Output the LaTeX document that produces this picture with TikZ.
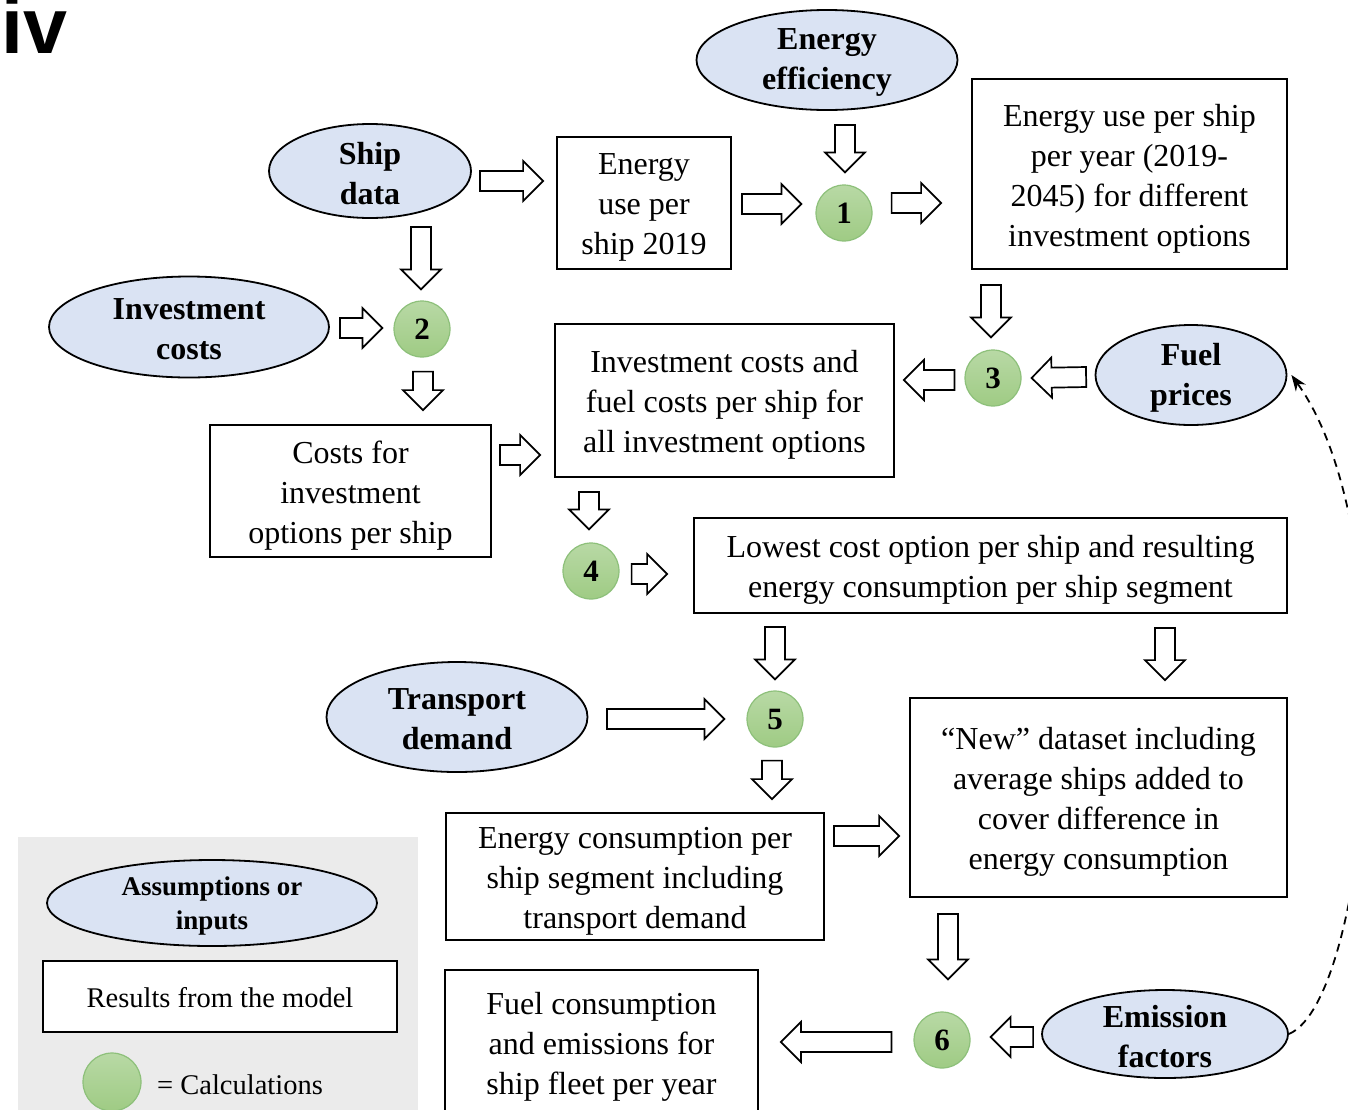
\documentclass[tikz,border=0pt]{standalone}
\usepackage{fontspec}
\setmainfont{Liberation Serif}
\newfontfamily\ivfont{Liberation Sans}
\usetikzlibrary{shapes.geometric,arrows.meta,calc}
\definecolor{ellfill}{HTML}{DAE3F3}
\definecolor{gtop}{HTML}{B8D9A5}
\definecolor{gbot}{HTML}{9FCB84}
\definecolor{gline}{HTML}{8DC07A}
\definecolor{legbg}{HTML}{EBEBEB}
\begin{document}
\begin{tikzpicture}[x=1pt,y=1pt,
  ell/.style={ellipse, draw, line width=1.8pt, fill=ellfill, inner sep=0pt},
  ellt/.style={align=center, inner sep=0pt, yshift=-2.5pt, font=\fontsize{32}{40}\selectfont\bfseries},
  ellts/.style={align=center, inner sep=0pt, yshift=-3pt, font=\fontsize{27}{34}\selectfont\bfseries},
  res/.style={rectangle, draw, line width=1.8pt, fill=white, inner sep=0pt},
  rest/.style={align=center, inner sep=0pt, yshift=-4.5pt, font=\fontsize{32}{40}\selectfont},
  calcnode/.style={circle, minimum size=56pt, inner sep=0pt, top color=gtop, bottom color=gbot, draw=gline, line width=1.2pt, font=\fontsize{31}{31}\selectfont\bfseries},
  blk/.style={draw, fill=white, line width=1.7pt, line join=miter,
    to path={let \p1=(\tikztostart), \p2=(\tikztotarget),
      \n1={atan2(\y2-\y1,\x2-\x1)}, \n2={veclen(\x2-\x1,\y2-\y1)-20}
      in (\p1) ++(\n1+90:10) -- ++(\n1:\n2) -- ++(\n1+90:10) -- (\p2)
      -- ++(\n1+225:28.284) -- ++(\n1+90:10) -- ++(\n1+180:\n2) -- cycle}},
  feedback/.style={dash pattern=on 8pt off 6pt, line width=1.8pt, -{Stealth[length=16pt,width=12pt]}}
]
\useasboundingbox (0,0) rectangle (1348,-1109);

% panel label
\node[anchor=base west, inner sep=0pt, font=\ivfont\bfseries\fontsize{79}{79}\selectfont] (panel) at (1,-53) {iv};

% legend
\node[fill=legbg, anchor=north west, minimum width=400pt, minimum height=280pt, inner sep=0pt] (legend) at (18,-837) {};
\node[ell, minimum width=330pt, minimum height=86pt, label={[ellts]center:{Assumptions or\\inputs}}] (legA) at (212,-903) {};
\node[res, minimum width=354pt, minimum height=71pt, label={[rest, yshift=3.5pt, font=\fontsize{28.5}{34}\selectfont]center:{Results from the model}}] (legR) at (220,-996.5) {};
\node[calcnode, minimum size=58pt] (legC) at (112,-1082) {};
\node[anchor=base west, inner sep=0pt, font=\fontsize{28.5}{34}\selectfont] (legT) at (157,-1094) {= Calculations};

% inputs
\node[ell, minimum width=261pt, minimum height=100pt, label={[ellt]center:{Energy\\efficiency}}] (eff) at (827,-60) {};
\node[ell, minimum width=202pt, minimum height=94pt, label={[ellt]center:{Ship\\data}}] (ship) at (370,-171) {};
\node[ell, minimum width=280pt, minimum height=101pt, label={[ellt]center:{Investment\\costs}}] (inv) at (189,-327) {};
\node[ell, minimum width=191pt, minimum height=100pt, label={[ellt]center:{Fuel\\prices}}] (fuelp) at (1191,-375) {};
\node[ell, minimum width=261pt, minimum height=110pt, label={[ellt]center:{Transport\\demand}}] (trans) at (457,-717) {};
\node[ell, minimum width=246pt, minimum height=88pt, label={[ellt]center:{Emission\\factors}}] (emis) at (1165,-1034) {};

% results
\node[res, minimum width=174pt, minimum height=132pt, label={[rest]center:{Energy\\use per\\ship 2019}}] (e19) at (644,-203) {};
\node[res, minimum width=315pt, minimum height=190pt, label={[rest]center:{Energy use per ship\\per year (2019-\\2045) for different\\investment options}}] (eyr) at (1129.5,-174) {};
\node[res, minimum width=339pt, minimum height=153pt, label={[rest]center:{Investment costs and\\fuel costs per ship for\\all investment options}}] (invb) at (724.5,-400.5) {};
\node[res, minimum width=281pt, minimum height=132pt, label={[rest]center:{Costs for\\investment\\options per ship}}] (cost) at (350.5,-491) {};
\node[res, minimum width=593pt, minimum height=95pt, label={[rest]center:{Lowest cost option per ship and resulting\\energy consumption per ship segment}}] (low) at (990.5,-565.5) {};
\node[res, minimum width=377pt, minimum height=199pt, label={[rest]center:{“New” dataset including\\average ships added to\\cover difference in\\energy consumption}}] (new) at (1098.5,-797.5) {};
\node[res, minimum width=378pt, minimum height=127pt, label={[rest]center:{Energy consumption per\\ship segment including\\transport demand}}] (econ) at (635,-876.5) {};
\node[res, minimum width=313pt, minimum height=145pt, label={[rest]center:{Fuel consumption\\and emissions for\\ship fleet per year}}] (fuelc) at (601.5,-1042.5) {};

% calculations
\node[calcnode] (c1) at (844,-213) {1};
\node[calcnode] (c2) at (422,-329) {2};
\node[calcnode] (c3) at (993,-378) {3};
\node[calcnode] (c4) at (591,-571) {4};
\node[calcnode] (c5) at (775,-719) {5};
\node[calcnode] (c6) at (942,-1040) {6};

% block arrows
\draw[blk] ([shift={(8,-10)}]ship.east) to ([shift={(-13,22)}]e19.west);
\draw[blk] ([shift={(10,-1)}]e19.east) to ([shift={(-14,9)}]c1.west);
\draw[blk] ([shift={(18,-14)}]eff.south) to ([shift={(1,12)}]c1.north);
\draw[blk] ([shift={(19,10)}]c1.east) to ([shift={(-30,-29)}]eyr.west);
\draw[blk] ([shift={(51,-8)}]ship.south) to ([shift={(-1,11)}]c2.north);
\draw[blk] ([shift={(10,-1)}]inv.east) to ([shift={(-11,1)}]c2.west);
\draw[blk] ([shift={(1,-14)}]c2.south) to ([shift={(72.5,14)}]cost.north);
\draw[blk] ([shift={(8,36)}]cost.east) to ([shift={(-14,-54.5)}]invb.west);
\draw[blk] ([shift={(-138.5,-15)}]eyr.south) to ([shift={(-2,12)}]c3.north);
\draw[blk] ([shift={(-10,-2)}]c3.west) to ([shift={(9,20.5)}]invb.east);
\draw[blk] ([shift={(-8.5,-2)}]fuelp.west) to ([shift={(10,0)}]c3.east);
\draw[blk] ([shift={(-135.5,-14)}]invb.south) to ([shift={(-2,13)}]c4.north);
\draw[blk] ([shift={(12,-3)}]c4.east) to ([shift={(-26,-8.5)}]low.west);
\draw[blk] ([shift={(-215.5,-13)}]low.south) to ([shift={(0,11)}]c5.north);
\draw[blk] ([shift={(174.5,-14)}]low.south) to ([shift={(66.5,17)}]new.north);
\draw[blk] ([shift={(18.5,-2)}]trans.east) to ([shift={(-22,0)}]c5.west);
\draw[blk] ([shift={(-3,-13)}]c5.south) to ([shift={(137,13)}]econ.north);
\draw[blk] ([shift={(9,40.5)}]econ.east) to ([shift={(-10,-38.5)}]new.west);
\draw[blk] ([shift={(-150.5,-16)}]new.south) to ([shift={(6,32)}]c6.north);
\draw[blk] ([shift={(-8,-3)}]emis.west) to ([shift={(20,3)}]c6.east);
\draw[blk] ([shift={(-22,-2)}]c6.west) to ([shift={(22,0.5)}]fuelc.east);

% feedback
\draw[feedback] (emis.east) .. controls (1370,-1000) and (1410,-540) .. ([xshift=4pt]fuelp.east);
\end{tikzpicture}
\end{document}
